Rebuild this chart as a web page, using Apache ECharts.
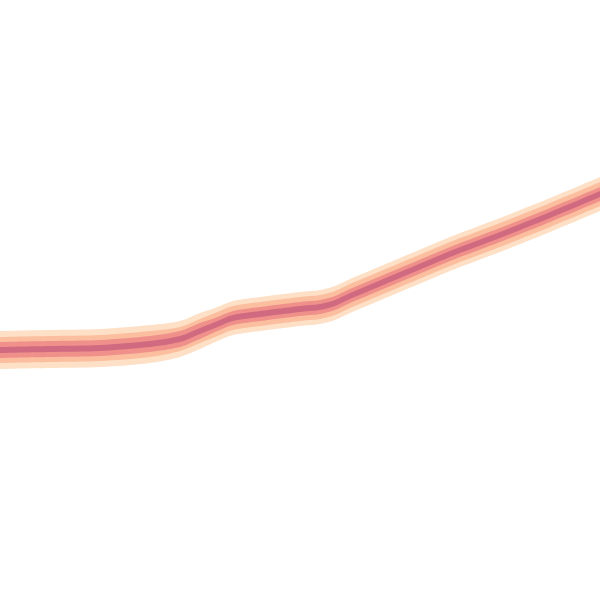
<!DOCTYPE html>
<html>
<head>
<meta charset="utf-8">
<script src="https://cdn.jsdelivr.net/npm/echarts@6/dist/echarts.min.js"></script>
<style>
  html, body { margin: 0; padding: 0; background: #ffffff; }
  #chart { width: 600px; height: 600px; }
</style>
</head>
<body>
<div id="chart"></div>
<script>
// positions along the run and the median path
var steps = [0, 50, 100, 150, 180, 200, 215, 233, 260, 300, 320, 335, 350, 400, 450, 500, 550, 600];
var median = [250, 251, 252, 256, 261, 269, 275, 282, 286, 291, 293, 297, 304, 325, 346, 365, 385, 406];
// half widths of the bands around the median
var outerBand = [19, 19, 19, 19, 18, 18, 17, 17, 17, 17, 17, 17, 17, 17, 17, 17, 17, 17];
var middleBand = [13, 13, 13, 13, 12, 12, 12, 12, 12, 12, 12, 12, 12, 12, 12, 12, 12, 12];
var innerBand = [8, 8, 8, 8, 8, 8, 7, 7, 7, 7, 7, 7, 7, 7, 7, 7, 7, 7];
var coreBand = [3, 3, 3, 3, 3, 3, 3, 3, 3, 3, 3, 3, 3, 3, 3, 3, 3, 3];

(function () {
  var chart = echarts.init(document.getElementById("chart"), null, { renderer: "canvas" });

  // each edge is filled down to the bottom; later layers paint over earlier ones
  function edge(name, color, band, sign) {
    return {
      name: name,
      type: "line",
      smooth: 0.3,
      showSymbol: false,
      silent: true,
      lineStyle: { width: 0 },
      areaStyle: { color: color, opacity: 1, origin: "start" },
      data: steps.map(function (x, i) {
        return [x, median[i] + sign * band[i]];
      })
    };
  }

  var series = [
    edge("outer high", "#fde0c6", outerBand, 1),
    edge("middle high", "#fbbfa0", middleBand, 1),
    edge("inner high", "#f0908a", innerBand, 1),
    edge("core high", "#d06a80", coreBand, 1),
    edge("core low", "#f0908a", coreBand, -1),
    edge("inner low", "#fbbfa0", innerBand, -1),
    edge("middle low", "#fde0c6", middleBand, -1),
    edge("outer low", "#ffffff", outerBand, -1)
  ];

  chart.setOption({
    animation: false,
    backgroundColor: "#ffffff",
    grid: { left: 0, right: 0, top: 0, bottom: 0 },
    xAxis: {
      type: "value",
      min: 0,
      max: 600,
      show: false
    },
    yAxis: {
      type: "value",
      min: 0,
      max: 600,
      show: false
    },
    series: series
  });
})();
</script>
</body>
</html>
